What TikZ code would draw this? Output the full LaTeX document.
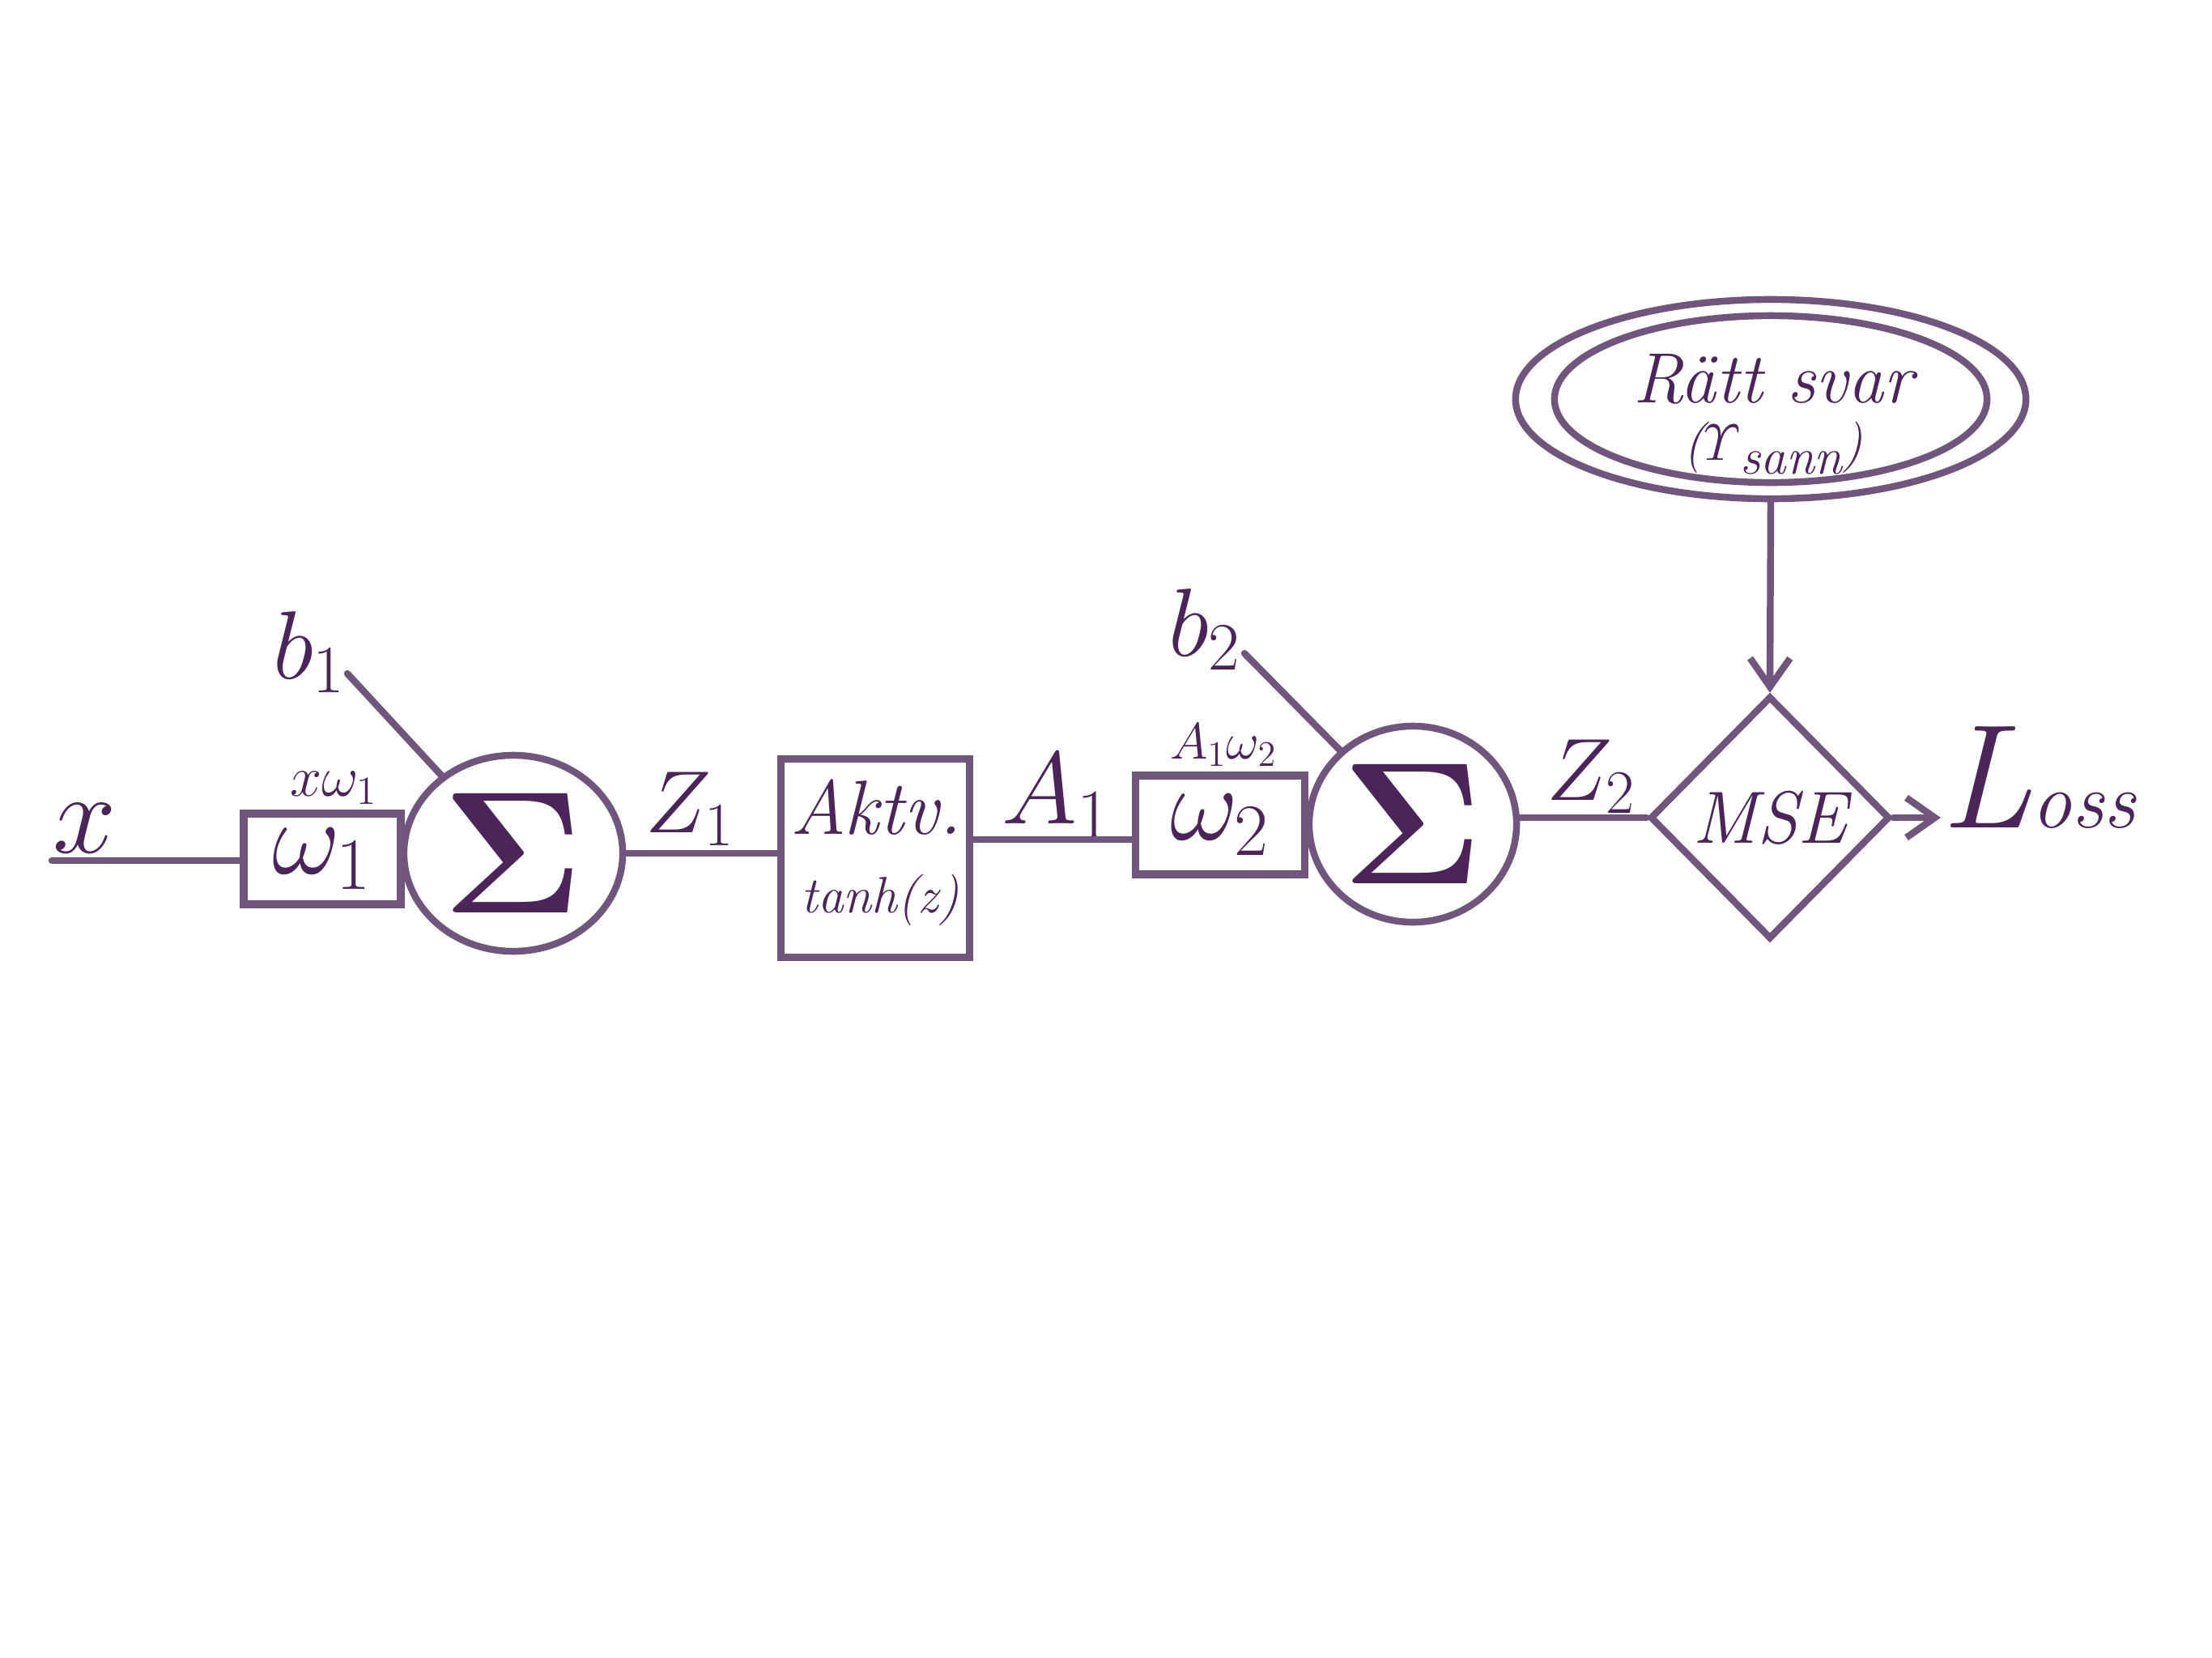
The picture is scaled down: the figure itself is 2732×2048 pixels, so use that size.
\RequirePackage{fix-cm}
\documentclass[tikz,border=0pt]{standalone}
\usepackage{amsmath}
\usetikzlibrary{shapes.geometric,arrows.meta}
\definecolor{ink}{RGB}{75,37,90}
\definecolor{linec}{RGB}{112,86,124}
\newcommand{\fsz}[1]{\fontsize{#1}{#1}\selectfont}
\begin{document}
\begin{tikzpicture}[x=0.01cm,y=-0.01cm,
  wire/.style={draw=linec,line width=2.4pt,line cap=round},
  box/.style={draw=linec,line width=2.6pt,rectangle,inner sep=0pt,text=ink},
  sumnode/.style={draw=linec,line width=2.4pt,ellipse,inner sep=0pt,text=ink},
  lbl/.style={text=ink,inner sep=0pt,anchor=base},
  tip/.style={-{Straight Barb[length=10pt,width=14pt]}}
]
\fill[white] (0,0) rectangle (2732,2048);
\useasboundingbox (0,0) rectangle (2732,2048);

% first neuron
\coordinate (xin) at (64,1063);
\node[box,minimum width=1.94cm,minimum height=1.12cm,font=\fsz{37}] (w1) at (398,1061) {$\omega_1$};
\node[sumnode,minimum width=2.70cm,minimum height=2.42cm,font=\fsz{61}] (S1) at (634,1054) {$\mathbf{\Sigma}$};
\node[lbl,font=\fsz{40}] (xl) at (105,1053) {$x$};
\node[lbl,font=\fsz{34}] (b1) at (382,838) {$b_1$};
\coordinate (b1e) at (429,832);
\node[lbl,font=\fsz{20}] (xw1) at (412,983) {$x\omega_1$};
\node[lbl,font=\fsz{31}] (z1) at (852,1028) {$Z_1$};

% activation
\node[box,minimum width=2.33cm,minimum height=2.45cm] (akt) at (1081,1060) {};
\node[lbl,font=\fsz{27}\itshape] (aktv) at (1082,1030) {Aktv.};
\node[lbl,font=\fsz{18}\itshape] (tanh) at (1087,1127) {tanh(z)};
\coordinate (a1y) at (0,1037);
\node[lbl,font=\fsz{36}] (a1) at (1305,1017) {$A_1$};

% second neuron
\node[box,minimum width=2.09cm,minimum height=1.22cm,font=\fsz{37}] (w2) at (1507,1019) {$\omega_2$};
\node[lbl,font=\fsz{18}] (a1w2) at (1511,937) {$A_1\omega_2$};
\node[sumnode,minimum width=2.56cm,minimum height=2.42cm,font=\fsz{61}] (S2) at (1745,1018) {$\mathbf{\Sigma}$};
\node[lbl,font=\fsz{34}] (b2) at (1488,810) {$b_2$};
\coordinate (b2e) at (1537,807);
\node[lbl,font=\fsz{31}] (z2) at (1965,988) {$Z_2$};

% loss
\node[draw=linec,line width=2.4pt,diamond,minimum width=2.96cm,minimum height=3.0cm,inner sep=0pt,text=ink,font=\fsz{26}\itshape] (mse) at (2186,1010) {MSE};
\node[draw=linec,ellipse,line width=2.4pt,minimum width=6.30cm,minimum height=2.46cm] (ratt) at (2187,493) {};
\draw[draw=linec,line width=2.4pt] (ratt.center) ellipse [x radius=2.67cm, y radius=1.03cm];
\node[lbl,font=\fsz{25}\itshape] (rattt) at (2190,497) {Rätt svar};
\node[lbl,font=\fsz{18}\itshape] (yl) at (2190,568) {($\varUpsilon$\raisebox{-5pt}{sann})};
\node[lbl,anchor=base west] (loss) at (2397,1022) {{\fsz{52}\itshape L}{\fsz{28}\itshape oss}};

% connectors
\draw[wire] (xin) -- (xin -| w1.west);
\draw[wire] (b1e) -- (S1);
\draw[wire] (S1.east) -- (S1.east -| akt.west);
\draw[wire] (akt.east |- a1y) -- (a1y -| w2.west);
\draw[wire] (b2e) -- (S2);
\draw[wire] (S2.east |- mse.west) -- (mse.west);
\draw[wire,tip] (ratt.south) -- (mse.north);
\draw[wire,tip] (mse.east) -- (mse.east -| loss.west);
\end{tikzpicture}
\end{document}
